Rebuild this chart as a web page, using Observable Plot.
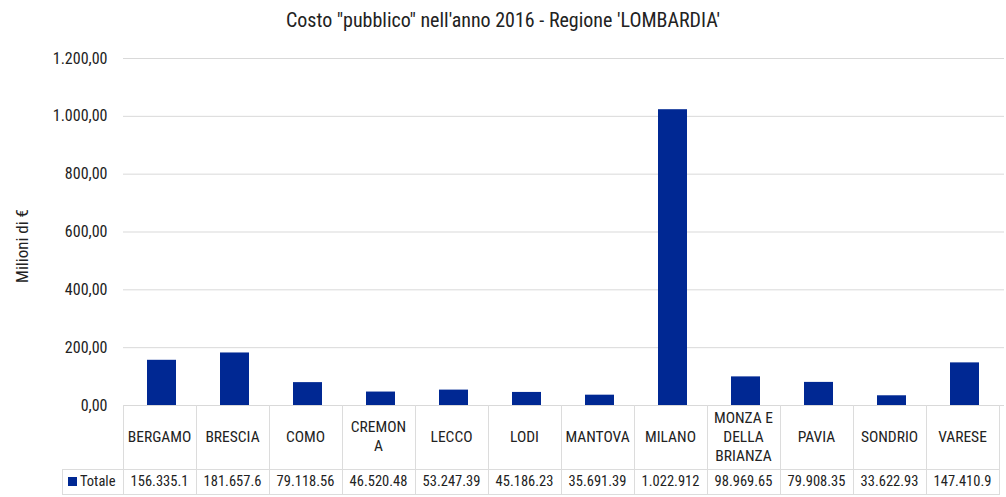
<!DOCTYPE html>
<html>
<head>
<meta charset="utf-8">
<script src="https://cdn.jsdelivr.net/npm/d3@7"></script>
<script src="https://cdn.jsdelivr.net/npm/@observablehq/plot@0.6"></script>
<style>
  html, body { margin: 0; padding: 0; background: #fff; }
  body { width: 1006px; height: 497px; position: relative; overflow: hidden;
         font-family: "Roboto Condensed", "Liberation Sans Narrow", "DejaVu Sans Condensed", Roboto, sans-serif; color: #222; }
  #title { height: 40px; line-height: 40px; text-align: center; font-size: 20px; font-stretch: condensed; }
  #ylabel { position: absolute; left: 22px; top: 246px; transform: translate(-50%, -50%) rotate(-90deg);
            font-size: 17px; white-space: nowrap; font-stretch: condensed; }
  #table { position: absolute; left: 0; top: 405px; }
  .cell { position: absolute; box-sizing: border-box; display: flex; align-items: center; justify-content: center;
          text-align: center; font-size: 14.5px; line-height: 19px; font-stretch: condensed; }
  .head { font-size: 15.5px; }
  .vline { position: absolute; width: 1px; background: #dcdcdc; }
  .hline { position: absolute; height: 1px; background: #dcdcdc; }
  svg { display: block; }
</style>
</head>
<body>
<div id="title">Costo "pubblico" nell'anno 2016 - Regione 'LOMBARDIA'</div>
<div id="chart"></div>
<div id="ylabel">Milioni di €</div>
<div id="table"></div>
<script>
const provinces = ["BERGAMO", "BRESCIA", "COMO", "CREMONA", "LECCO", "LODI", "MANTOVA", "MILANO", "MONZA E DELLA BRIANZA", "PAVIA", "SONDRIO", "VARESE"];
const headerLabels = ["BERGAMO", "BRESCIA", "COMO", "CREMON\nA", "LECCO", "LODI", "MANTOVA", "MILANO", "MONZA E\nDELLA\nBRIANZA", "PAVIA", "SONDRIO", "VARESE"];
const values = [156.3351, 181.6576, 79.11856, 46.52048, 53.24739, 45.18623, 35.69139, 1022.912, 98.96965, 79.90835, 33.62293, 147.4109];
const tableLabels = ["156.335.1", "181.657.6", "79.118.56", "46.520.48", "53.247.39", "45.186.23", "35.691.39", "1.022.912", "98.969.65", "79.908.35", "33.622.93", "147.410.9"];
const yTicks = [0, 200, 400, 600, 800, 1000, 1200];
const seriesName = "Totale";
const barColor = "#002893";

const data = provinces.map((p, i) => ({province: p, value: values[i]}));
const it = d3.formatLocale({decimal: ",", thousands: ".", grouping: [3], currency: ["", "€"]});
const fmt = it.format(",.2f");

const plot = Plot.plot({
  width: 1006,
  height: 378,
  marginTop: 18,
  marginBottom: 13,
  marginLeft: 123,
  marginRight: 2,
  style: {fontFamily: '"Roboto Condensed", "Liberation Sans Narrow", "DejaVu Sans Condensed", Roboto, sans-serif', fontSize: "16px", color: "#222", overflow: "visible"},
  x: {domain: provinces, paddingInner: 0.6, paddingOuter: 0.3, axis: null},
  y: {domain: [0, 1200], ticks: yTicks, tickFormat: fmt, label: null, tickSize: 0, tickPadding: 16},
  marks: [
    Plot.gridY(yTicks, {stroke: "#d9d9d9", strokeOpacity: 1}),
    Plot.barY(data, {x: "province", y: "value", fill: barColor}),
    Plot.ruleY([0], {stroke: "#d9d9d9"})
  ]
});
document.getElementById("chart").appendChild(plot);

// Data table below, aligned with the band scale
const xs = plot.scale("x");
const step = xs.step;
const left0 = xs.range[0];
const table = document.getElementById("table");
const headerH = 64, rowH = 25, legendLeft = 62;
function add(cls, css, html) {
  const d = document.createElement("div");
  d.className = cls;
  Object.assign(d.style, css);
  if (html != null) d.innerHTML = html;
  table.appendChild(d);
  return d;
}
provinces.forEach((p, i) => {
  const x0 = left0 + i * step;
  add("cell head", {left: x0 + "px", top: "0px", width: step + "px", height: headerH + "px"},
      headerLabels[i].split("\n").join("<br>"));
  add("cell", {left: x0 + "px", top: headerH + "px", width: step + "px", height: rowH + "px"}, tableLabels[i]);
});
for (let i = 0; i <= provinces.length; i++) {
  const x = Math.round(left0 + i * step);
  add("vline", {left: x + "px", top: "0px", height: (headerH + rowH) + "px"});
}
add("vline", {left: legendLeft + "px", top: headerH + "px", height: rowH + "px"});
add("hline", {left: legendLeft + "px", top: headerH + "px", width: (left0 + provinces.length * step - legendLeft) + "px"});
add("hline", {left: legendLeft + "px", top: (headerH + rowH) + "px", width: (left0 + provinces.length * step - legendLeft + 1) + "px"});
add("cell", {left: legendLeft + "px", top: headerH + "px", width: (left0 - legendLeft) + "px", height: rowH + "px", justifyContent: "flex-start", paddingLeft: "6px"},
    `<span style="display:inline-block;width:9px;height:9px;background:${barColor};margin-right:3px"></span>${seriesName}`);
</script>
</body>
</html>
